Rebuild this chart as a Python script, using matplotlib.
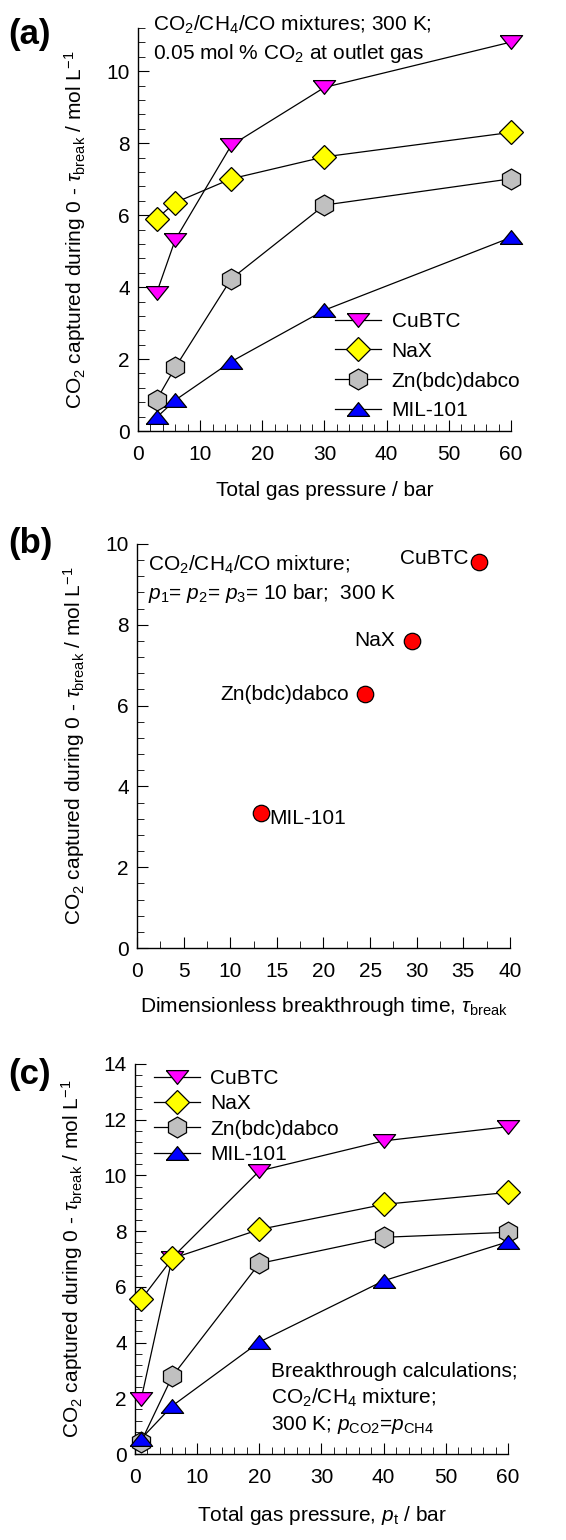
import matplotlib
matplotlib.use("Agg")
import matplotlib.pyplot as plt
from matplotlib.ticker import MultipleLocator

plt.rcParams.update({
    "font.family": ["Liberation Sans", "DejaVu Sans"],
    "font.size": 15,
    "mathtext.fontset": "custom",
    "mathtext.rm": "Liberation Sans",
    "mathtext.it": "Liberation Sans:italic",
    "mathtext.bf": "Liberation Sans:bold",
    "xtick.direction": "in",
    "ytick.direction": "in",
    "xtick.major.size": 8,
    "ytick.major.size": 8,
    "xtick.minor.size": 5,
    "ytick.minor.size": 5,
    "xtick.major.pad": 10,
    "ytick.major.pad": 6,
    "axes.linewidth": 1.0,
})

# ---- data ----
materials = ["CuBTC", "NaX", "Zn(bdc)dabco", "MIL-101"]

# (a) CO2/CH4/CO mixtures, total pressure sweep
p_a = [3, 6, 15, 30, 60]
cap_a = {
    "CuBTC": [3.84, 5.32, 7.94, 9.55, 10.81],
    "NaX": [5.90, 6.35, 7.01, 7.62, 8.30],
    "Zn(bdc)dabco": [0.87, 1.77, 4.23, 6.28, 7.01],
    "MIL-101": [0.38, 0.86, 1.93, 3.36, 5.38],
}

# (b) capture vs. breakthrough time at p1=p2=p3=10 bar
tau_b = [36.7, 29.45, 24.5, 13.3]
cap_b = [9.55, 7.61, 6.28, 3.33]

# (c) CO2/CH4 mixtures, total pressure sweep
p_c = [1, 6, 20, 40, 60]
cap_c = {
    "CuBTC": [1.98, 7.05, 10.16, 11.24, 11.75],
    "NaX": [5.55, 7.02, 8.06, 8.96, 9.39],
    "Zn(bdc)dabco": [0.45, 2.79, 6.84, 7.78, 7.96],
    "MIL-101": [0.55, 1.73, 4.02, 6.22, 7.62],
}

# flattened triangles
tri_down = [(-1, 0.62), (1, 0.62), (0, -0.62), (-1, 0.62)]
tri_up = [(-1, -0.62), (1, -0.62), (0, 0.62), (-1, -0.62)]
styles = {
    "CuBTC": dict(marker=tri_down, ms=16, mfc="#ff00ff"),
    "NaX": dict(marker="D", ms=12, mfc="#ffff00"),
    "Zn(bdc)dabco": dict(marker="h", ms=15, mfc="#c0c0c0"),
    "MIL-101": dict(marker=tri_up, ms=16, mfc="#0000ff"),
}

ylab = r"CO$_2$ captured during 0 - $\tau_{\rm break}$ / mol L$^{-1}$"


def style_axes(ax, xmax, ymax, xminor, xmajor):
    ax.spines["top"].set_visible(False)
    ax.spines["right"].set_visible(False)
    ax.set_xlim(0, xmax)
    ax.set_ylim(0, ymax)
    ax.xaxis.set_major_locator(MultipleLocator(xmajor))
    ax.xaxis.set_minor_locator(MultipleLocator(xminor))
    ax.yaxis.set_major_locator(MultipleLocator(2))
    ax.yaxis.set_minor_locator(MultipleLocator(0.4))
    ax.set_ylabel(ylab, fontsize=15)
    ax.yaxis.set_label_coords(-0.135, 0.5)


def draw_series(ax, x, data):
    for name in materials:
        st = styles[name]
        ax.plot(x, data[name], color="black", lw=0.9, marker=st["marker"],
                ms=st["ms"], mfc=st["mfc"], mec="black", mew=0.9,
                label=name, clip_on=False, zorder=3)


fig = plt.figure(figsize=(5.66, 15.4), dpi=100)

# (a)
ax1 = fig.add_axes([0.2438, 0.7201, 0.659, 0.2617])
draw_series(ax1, p_a, cap_a)
style_axes(ax1, 60, 11.2, 2, 10)
ax1.set_xlabel("Total gas pressure / bar", fontsize=15, labelpad=12)
ax1.text(0.04, 1.035, "CO$_2$/CH$_4$/CO mixtures; 300 K;\n0.05 mol % CO$_2$ at outlet gas",
         transform=ax1.transAxes, fontsize=15, va="top", ha="left", linespacing=1.35)
ax1.legend(loc="lower right", bbox_to_anchor=(1.075, -0.02), frameon=False,
           handlelength=2.2, handletextpad=0.5, labelspacing=0.52, fontsize=15)
fig.text(0.015, 0.988, "(a)", fontsize=25, fontweight="bold", va="top")

# (b)
ax2 = fig.add_axes([0.242, 0.3844, 0.659, 0.2624])
ax2.scatter(tau_b, cap_b, s=140, c="#ff0000", edgecolors="black",
            linewidths=0.9, clip_on=False, zorder=3)
style_axes(ax2, 40, 10, 2.5, 5)
ax2.set_xlabel(r"Dimensionless breakthrough time, $\tau_{\rm break}$",
               fontsize=15, labelpad=10)
ax2.text(0.03, 0.975, "CO$_2$/CH$_4$/CO mixture;\n$p_1$= $p_2$= $p_3$= 10 bar;  300 K",
         transform=ax2.transAxes, fontsize=15, va="top", ha="left", linespacing=1.35)
offsets = {"CuBTC": (-1.2, 0.08, "right"), "NaX": (-1.8, 0.0, "right"),
           "Zn(bdc)dabco": (-1.8, 0.0, "right"), "MIL-101": (0.9, -0.12, "left")}
for name, tx, cy in zip(materials, tau_b, cap_b):
    dx, dy, ha = offsets[name]
    ax2.text(tx + dx, cy + dy, name, fontsize=15, ha=ha, va="center")
fig.text(0.015, 0.658, "(b)", fontsize=25, fontweight="bold", va="top")

# (c)
ax3 = fig.add_axes([0.2385, 0.0558, 0.659, 0.2533])
draw_series(ax3, p_c, cap_c)
style_axes(ax3, 60, 14, 2, 10)
ax3.set_xlabel(r"Total gas pressure, $p_{\rm t}$ / bar", fontsize=15, labelpad=12)
ax3.text(0.365, 0.235,
         "Breakthrough calculations;\nCO$_2$/CH$_4$ mixture;\n"
         r"300 K; $p_{\rm CO2}$=$p_{\rm CH4}$",
         transform=ax3.transAxes, fontsize=15, va="top", ha="left", linespacing=1.3)
ax3.legend(loc="upper left", bbox_to_anchor=(0.0, 1.035), frameon=False,
           handlelength=2.2, handletextpad=0.5, labelspacing=0.3, fontsize=15)
fig.text(0.015, 0.313, "(c)", fontsize=25, fontweight="bold", va="top")

fig.savefig("out.png", dpi=100)
